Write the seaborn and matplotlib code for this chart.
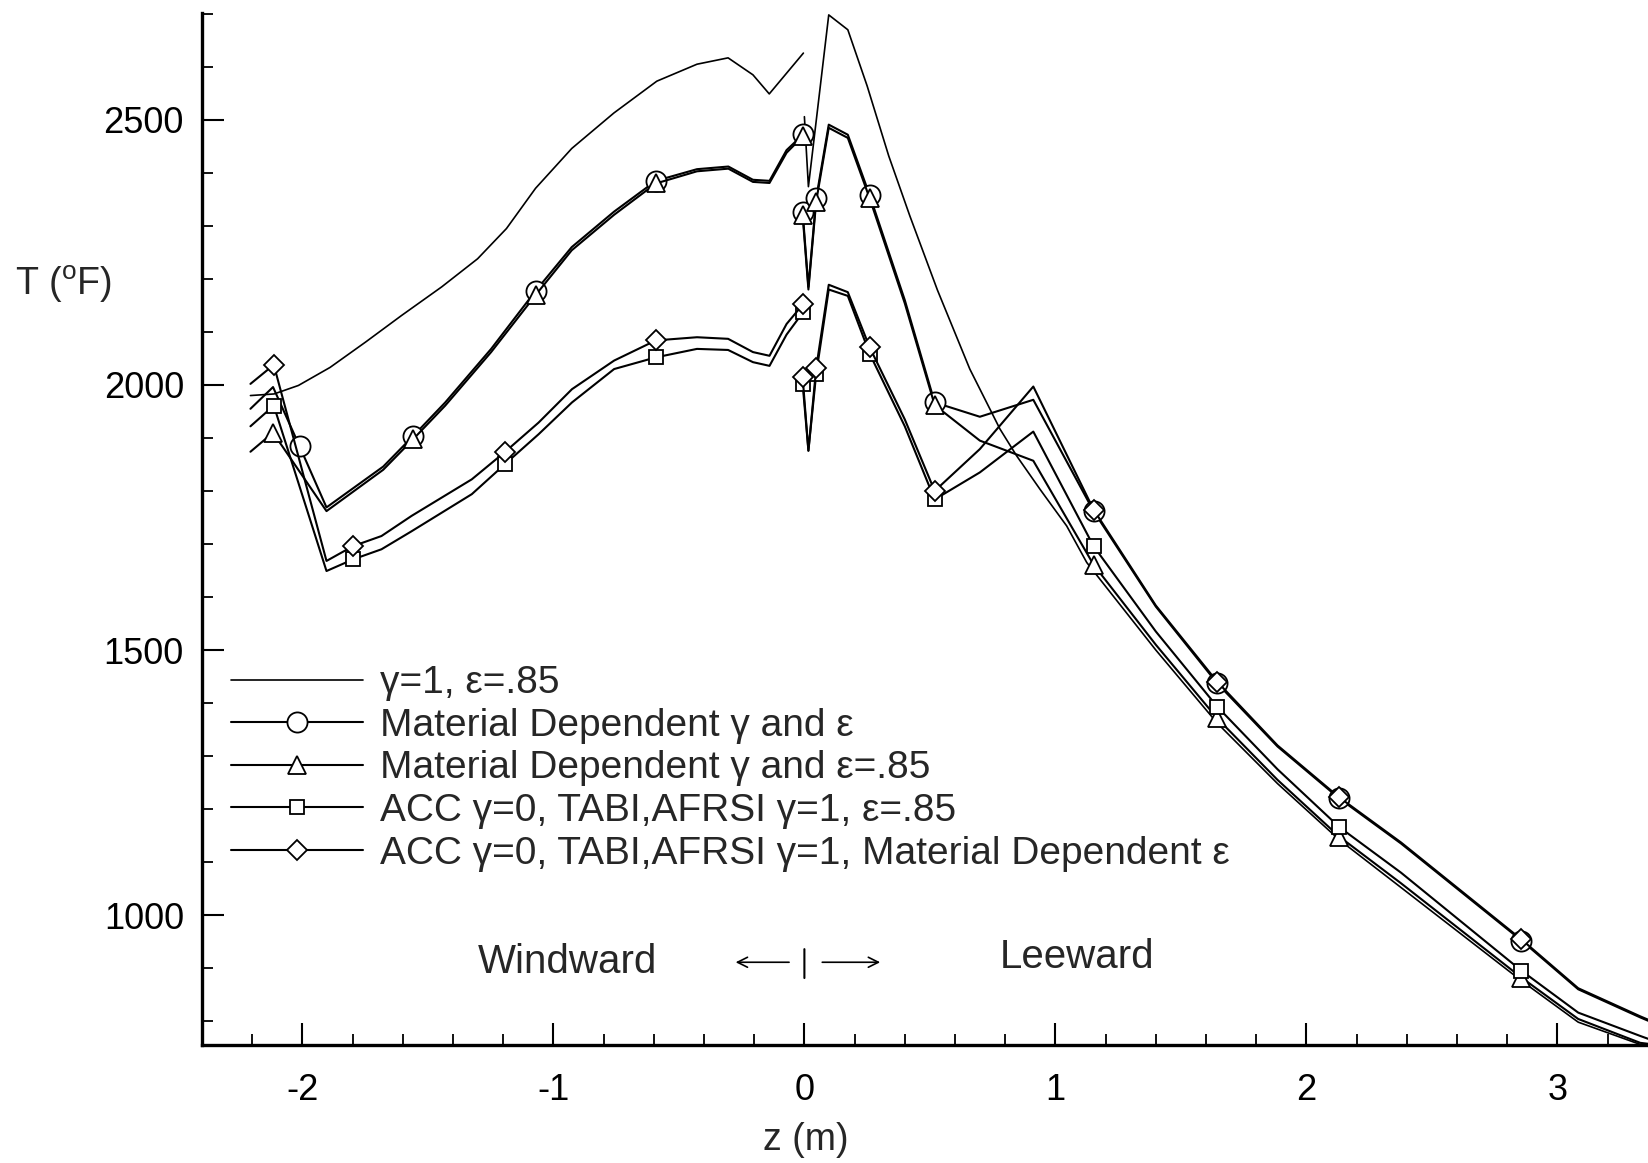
import matplotlib
matplotlib.use("Agg")
import matplotlib.pyplot as plt
import seaborn as sns
from matplotlib.lines import Line2D
from matplotlib.ticker import MultipleLocator

# ---------------- data ----------------
# gamma=1, eps=.85 (no markers)
s1_wind_z = [-2.207, -2.113, -2.016, -1.89, -1.748, -1.605, -1.445, -1.302, -1.187, -1.071,
             -0.927, -0.759, -0.588, -0.428, -0.304, -0.205, -0.14, -0.004]
s1_wind_T = [1980, 1983, 1999, 2033, 2081, 2131, 2185, 2238, 2295, 2371,
             2446, 2513, 2573, 2605, 2617, 2585, 2549, 2626]
s1_lee_z = [0.0, 0.016, 0.097, 0.173, 0.25, 0.336, 0.42, 0.53, 0.659, 0.779, 0.846, 0.939,
            1.045, 1.125, 1.40, 1.645, 1.885, 2.131, 2.377, 2.857, 3.083, 3.33, 3.365]
s1_lee_T = [2506, 2374, 2698, 2670, 2564, 2432, 2319, 2179, 2030, 1917, 1866, 1803,
            1734, 1665, 1500, 1362, 1248, 1142, 1052, 876, 798, 756, 752]

# Material Dependent gamma and eps (circles)
c_wind_z = [-2.207, -2.117, -2.011, -1.904, -1.678, -1.558, -1.431, -1.248, -1.070, -0.927,
            -0.758, -0.592, -0.428, -0.303, -0.205, -0.139, -0.071, -0.004]
c_wind_T = [1955, 1996, 1884, 1769, 1846, 1904, 1967, 2068, 2178, 2260,
            2327, 2385, 2407, 2412, 2387, 2385, 2443, 2473]
c_wind_mk = [2, 5, 8, 11, 17]

# Material Dependent gamma and eps=.85 (triangles)
t_wind_z = [-2.207, -2.117, -1.904, -1.678, -1.558, -1.431, -1.248, -1.070, -0.927,
            -0.758, -0.592, -0.428, -0.303, -0.205, -0.139, -0.071, -0.004]
t_wind_T = [1874, 1910, 1762, 1840, 1898, 1961, 2062, 2170, 2254,
            2321, 2380, 2403, 2408, 2383, 2381, 2438, 2470]
t_wind_mk = [1, 4, 7, 10, 16]

# ACC gamma=0 ... eps=.85 (squares) and Material Dependent eps (diamonds)
ds_wind_z = [-2.207, -2.114, -1.904, -1.798, -1.685, -1.565, -1.325, -1.192, -1.059, -0.926,
             -0.758, -0.592, -0.428, -0.304, -0.205, -0.139, -0.071, -0.004]
d_wind_T = [2002, 2038, 1668, 1696, 1715, 1753, 1822, 1874, 1929, 1992,
            2046, 2084, 2090, 2087, 2062, 2055, 2115, 2153]
s_wind_T = [1922, 1961, 1649, 1671, 1690, 1724, 1794, 1851, 1907, 1967,
            2030, 2052, 2068, 2066, 2043, 2036, 2095, 2138]
ds_wind_mk = [1, 3, 7, 11, 17]

lee_z = [-0.007, 0.016, 0.047, 0.097, 0.173, 0.26, 0.40, 0.519, 0.699, 0.912,
         1.152, 1.40, 1.645, 1.885, 2.131, 2.377, 2.857, 3.083, 3.33, 3.365]
c_lee_T = [2327, 2185, 2352, 2491, 2472, 2358, 2160, 1967, 1940, 1972,
           1762, 1582, 1437, 1318, 1220, 1135, 952, 860, 807, 800]
t_lee_T = [2320, 2180, 2346, 2485, 2466, 2352, 2154, 1962, 1895, 1857,
           1661, 1510, 1371, 1255, 1148, 1060, 882, 804, 759, 757]
d_lee_T = [2015, 1876, 2032, 2189, 2175, 2071, 1935, 1800, 1879, 1997,
           1765, 1584, 1440, 1320, 1222, 1137, 954, 862, 809, 802]
s_lee_T = [2002, 1876, 2021, 2180, 2168, 2059, 1922, 1784, 1835, 1912,
           1696, 1535, 1393, 1275, 1166, 1080, 895, 816, 772, 766]
lee_mk = [0, 2, 5, 7, 10, 12, 14, 16]

labels = ["\u03b3=1, \u03b5=.85",
          "Material Dependent \u03b3 and \u03b5",
          "Material Dependent \u03b3 and \u03b5=.85",
          "ACC \u03b3=0, TABI,AFRSI \u03b3=1, \u03b5=.85",
          "ACC \u03b3=0, TABI,AFRSI \u03b3=1, Material Dependent \u03b5"]

x_ticks = [-2, -1, 0, 1, 2, 3]
y_ticks = [1000, 1500, 2000, 2500]

# ---------------- style ----------------
sns.set_style("ticks")
plt.rcParams["font.family"] = ["Liberation Sans", "DejaVu Sans"]
plt.rcParams["mathtext.fontset"] = "custom"
plt.rcParams["mathtext.rm"] = "Liberation Sans"

fig = plt.figure(figsize=(16.49, 11.63), dpi=100)
ax = fig.add_axes([0.1225, 0.1015, 0.8775, 0.8875])

LW = 1.5
marker_styles = {
    "o": dict(marker="o", markersize=14.5),
    "^": dict(marker="^", markersize=13),
    "s": dict(marker="s", markersize=10.5),
    "D": dict(marker="D", markersize=10),
}


def draw(z, T, mk=None, idx=None, lw=LW, zo=2):
    kw = dict(x=z, y=T, sort=False, estimator=None, ax=ax, color="black",
              linewidth=lw, legend=False, zorder=zo)
    if mk is not None:
        kw.update(marker_styles[mk])
        kw.update(markevery=idx, markerfacecolor="white",
                  markeredgecolor="black", markeredgewidth=1.3)
    sns.lineplot(**kw)


draw(s1_wind_z, s1_wind_T, lw=1.2)
draw(s1_lee_z, s1_lee_T, lw=1.2)
draw(c_wind_z, c_wind_T, "o", c_wind_mk, zo=3)
draw(lee_z, c_lee_T, "o", lee_mk, zo=3)
draw(t_wind_z, t_wind_T, "^", t_wind_mk, zo=4)
draw(lee_z, t_lee_T, "^", lee_mk, zo=4)
draw(ds_wind_z, s_wind_T, "s", ds_wind_mk, zo=5)
draw(lee_z, s_lee_T, "s", lee_mk, zo=5)
draw(ds_wind_z, d_wind_T, "D", ds_wind_mk, zo=6)
draw(lee_z, d_lee_T, "D", lee_mk, zo=6)

# ---------------- axes ----------------
ax.set_xlim(-2.40, 3.365)
ax.set_ylim(755, 2702)
ax.set_xticks(x_ticks)
ax.set_xticklabels([str(v) for v in x_ticks])
ax.set_yticks(y_ticks)
ax.set_yticklabels([str(v) for v in y_ticks])
ax.xaxis.set_minor_locator(MultipleLocator(0.2))
ax.yaxis.set_minor_locator(MultipleLocator(100))
ax.tick_params(which="major", direction="in", length=16, width=1.5, labelsize=26,
               colors="black")
ax.tick_params(axis="x", which="major", pad=20)
ax.tick_params(axis="y", which="major", pad=13)
ax.tick_params(which="minor", direction="in", length=8, width=1.3, colors="black")
for side in ("top", "right"):
    ax.spines[side].set_visible(False)
for side in ("left", "bottom"):
    ax.spines[side].set_linewidth(2.4)
    ax.spines[side].set_color("black")

ax.set_xlabel("z (m)", fontsize=27, va="center")
ax.xaxis.set_label_coords(0.417, -0.092)
ax.set_ylabel("T ($\\mathregular{^o}$F)", fontsize=27, rotation=0, ha="center", va="center")
ax.yaxis.set_label_coords(-0.096, 0.737)

# annotations
ax.text(-0.942, 911, "Windward", fontsize=29, ha="center", va="center")
ax.text(1.086, 921, "Leeward", fontsize=29, ha="center", va="center")
ax.annotate("", xy=(-0.285, 911), xytext=(-0.05, 911),
            arrowprops=dict(arrowstyle="->", lw=1.2, color="black", mutation_scale=18))
ax.annotate("", xy=(0.313, 911), xytext=(0.06, 911),
            arrowprops=dict(arrowstyle="->", lw=1.2, color="black", mutation_scale=18))
ax.annotate("", xy=(0.0, 876), xytext=(0.0, 941),
            arrowprops=dict(arrowstyle="-", lw=1.5, color="black"))

# legend
handles = [Line2D([], [], color="black", lw=1.2)]
for mk in ("o", "^", "s", "D"):
    handles.append(Line2D([], [], color="black", lw=LW, markerfacecolor="white",
                          markeredgecolor="black", markeredgewidth=1.3, **marker_styles[mk]))
leg = ax.legend(handles, labels, loc="upper left", bbox_to_anchor=(0.02, 0.368),
                frameon=False, fontsize=28, handlelength=3.4, handletextpad=0.43,
                labelspacing=0.17, borderpad=0.0, borderaxespad=0.0, numpoints=1)

fig.savefig("out.png", dpi=100, facecolor="white")
